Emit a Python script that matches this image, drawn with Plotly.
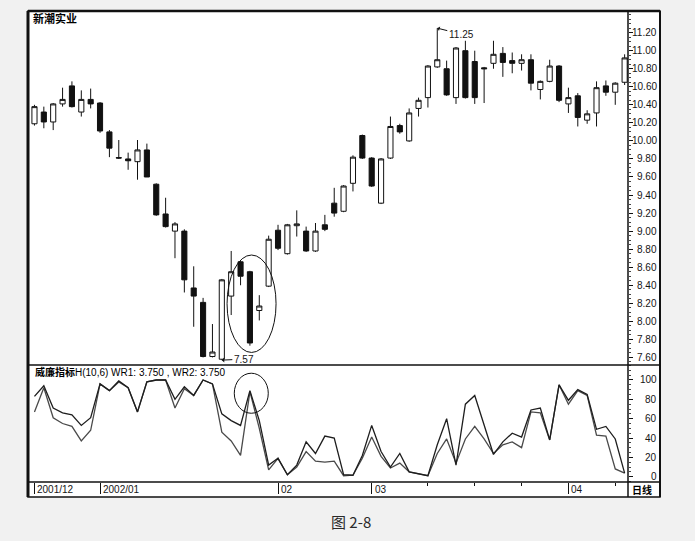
import plotly.graph_objects as go

# ---------------- data ----------------
idx = list(range(64))
opens = [10.19, 10.32, 10.21, 10.41, 10.61, 10.32, 10.46, 10.42, 10.10, 9.815,
         9.80, 9.77, 9.90, 9.52, 9.19, 9.00, 9.00, 8.37, 8.21, 7.61,
         7.58, 8.28, 8.66, 8.55, 8.12, 8.39, 9.01, 8.75, 9.06, 9.00,
         8.78, 9.07, 9.31, 9.22, 9.53, 10.06, 9.81, 9.31, 9.81, 10.17,
         10.00, 10.36, 10.48, 10.82, 10.80, 10.48, 11.00, 10.88, 10.81, 10.86,
         10.97, 10.89, 10.86, 10.90, 10.57, 10.66, 10.83, 10.41, 10.50, 10.23,
         10.31, 10.61, 10.54, 10.65]
highs = [10.40, 10.38, 10.42, 10.59, 10.66, 10.56, 10.58, 10.43, 10.12, 10.01,
         9.87, 10.01, 9.97, 9.53, 9.37, 9.10, 9.02, 8.61, 8.26, 7.97,
         8.47, 8.78, 8.67, 8.56, 8.29, 8.95, 9.07, 9.08, 9.23, 9.05,
         9.09, 9.18, 9.48, 9.51, 9.84, 10.07, 9.82, 9.81, 10.27, 10.19,
         10.36, 10.48, 10.84, 11.25, 10.89, 11.04, 11.11, 11.00, 10.82, 11.11,
         11.04, 10.98, 10.96, 10.96, 10.67, 10.90, 10.84, 10.59, 10.53, 10.34,
         10.66, 10.67, 10.65, 10.96]
lows = [10.17, 10.14, 10.12, 10.38, 10.37, 10.27, 10.36, 10.09, 9.82, 9.80,
        9.68, 9.57, 9.60, 9.17, 9.04, 8.70, 8.32, 7.94, 7.60, 7.60,
        7.57, 8.07, 8.40, 7.73, 8.01, 8.38, 8.79, 8.74, 8.94, 8.77,
        8.77, 9.00, 9.16, 9.21, 9.44, 9.80, 9.49, 9.30, 9.80, 10.08,
        9.99, 10.27, 10.37, 10.81, 10.50, 10.41, 10.47, 10.41, 10.42, 10.80,
        10.71, 10.75, 10.78, 10.56, 10.46, 10.65, 10.43, 10.31, 10.16, 10.19,
        10.16, 10.50, 10.40, 10.62]
closes = [10.38, 10.21, 10.41, 10.46, 10.38, 10.46, 10.41, 10.11, 9.92, 9.81,
          9.78, 9.90, 9.60, 9.18, 9.05, 9.08, 8.46, 8.28, 7.61, 7.66,
          8.46, 8.55, 8.50, 7.76, 8.17, 8.91, 8.81, 9.07, 9.08, 8.78,
          9.00, 9.02, 9.20, 9.50, 9.82, 9.81, 9.50, 9.80, 10.16, 10.10,
          10.31, 10.45, 10.83, 10.90, 10.51, 11.03, 10.48, 10.48, 10.80, 10.96,
          10.87, 10.86, 10.90, 10.64, 10.66, 10.83, 10.45, 10.48, 10.26, 10.30,
          10.59, 10.54, 10.64, 10.92]

wr1 = [83, 94, 71, 66, 64, 53, 61, 96, 89, 99,
       92, 67, 98, 100, 100, 80, 93, 84, 100, 96,
       65, 58, 53, 89, 58, 12, 19, 2, 12, 36,
       24, 42, 40, 2, 1.5, 22, 53, 26, 10, 24,
       5, 3, 1, 33, 60, 12, 75, 84, 53, 23,
       36, 45, 41, 69, 71, 38, 95, 79, 90, 85,
       49, 52, 39, 3.75]
wr2 = [67, 92, 61, 55, 52, 37, 48, 96, 89, 98,
       92, 67, 98, 100, 100, 71, 91, 84, 100, 96,
       46, 37, 22, 88, 50, 7, 19, 2, 10, 26,
       16, 15, 16, 1, 1.5, 19, 41, 21, 9, 14,
       5, 3, 1, 24, 39, 14, 39, 52, 39, 24,
       33, 36, 30, 67, 66, 38, 95, 75, 89, 84,
       43, 42, 8, 3.75]

price_ticks = [7.6, 7.8, 8.0, 8.2, 8.4, 8.6, 8.8, 9.0, 9.2, 9.4, 9.6, 9.8,
               10.0, 10.2, 10.4, 10.6, 10.8, 11.0, 11.2]
price_grid = [7.6, 8.0, 8.4, 8.8, 9.2, 9.6, 10.0, 10.4, 10.8, 11.2]
wr_ticks = [0, 20, 40, 60, 80, 100]
wr_grid = [0, 40, 80, 100]
month_idx = [0, 7, 26, 36, 57]
month_labels = ["2001/12", "2002/01", "02", "03", "04"]
week_idx = [42, 47, 52, 62]

# ---------------- geometry helpers (pixel -> paper) ----------------
W, H = 695, 541
L, R, T, B = 28, 628, 11, 482
def px(x):
    return (x - L) / (R - L)
def py(y):
    return (B - y) / (B - T)

split = py(365)
TXT = "#151515"
FONT = "Liberation Sans, Arial, sans-serif"
CJK = "Noto Sans CJK SC, sans-serif"

fig = go.Figure()
fig.add_trace(go.Candlestick(
    x=idx, open=opens, high=highs, low=lows, close=closes,
    xaxis="x", yaxis="y",
    increasing=dict(fillcolor="#ffffff", line=dict(color="#111111", width=1)),
    decreasing=dict(fillcolor="#111111", line=dict(color="#111111", width=1)),
    whiskerwidth=0, showlegend=False, hoverinfo="skip"))
fig.add_trace(go.Scatter(x=idx, y=wr2, xaxis="x2", yaxis="y2", mode="lines",
                         line=dict(color="#4a4a4a", width=1.3), showlegend=False,
                         hoverinfo="skip"))
fig.add_trace(go.Scatter(x=idx, y=wr1, xaxis="x2", yaxis="y2", mode="lines",
                         line=dict(color="#1e1e1e", width=1.3), showlegend=False,
                         hoverinfo="skip"))

xr = [-0.69, 63.36]
shapes = []
# dotted grid
for v in price_grid:
    shapes.append(dict(type="line", xref="x domain", yref="y", x0=0, x1=1, y0=v, y1=v,
                       line=dict(color="#333333", width=1, dash="1px,2px"), layer="below"))
for v in wr_grid:
    shapes.append(dict(type="line", xref="x2 domain", yref="y2", x0=0, x1=1, y0=v, y1=v,
                       line=dict(color="#333333", width=1, dash="1px,2px"), layer="below"))
# frame
fx1 = px(660)
fy0 = py(497)
shapes += [
    dict(type="rect", xref="paper", yref="paper", x0=0, x1=fx1, y0=fy0, y1=1,
         line=dict(color="#111111", width=1.5), fillcolor="#ffffff", layer="below"),
    dict(type="line", xref="paper", yref="paper", x0=0, x1=0, y0=fy0, y1=1,
         line=dict(color="#111111", width=3)),
    dict(type="line", xref="paper", yref="paper", x0=0, x1=fx1, y0=1, y1=1,
         line=dict(color="#111111", width=2.5)),
    dict(type="line", xref="paper", yref="paper", x0=0, x1=fx1, y0=split, y1=split,
         line=dict(color="#111111", width=1.5)),
    dict(type="line", xref="paper", yref="paper", x0=0, x1=fx1, y0=0, y1=0,
         line=dict(color="#111111", width=1.5)),
    dict(type="line", xref="paper", yref="paper", x0=1, x1=1, y0=fy0, y1=1,
         line=dict(color="#111111", width=1.5)),
    dict(type="line", xref="paper", yref="paper", x0=fx1, x1=fx1, y0=fy0, y1=1,
         line=dict(color="#111111", width=2)),
    # ellipse around the candles
    dict(type="circle", xref="x", yref="y", x0=20.56, x1=25.79, y0=7.655, y1=8.735,
         line=dict(color="#111111", width=1)),
    # circle in WR panel
    dict(type="circle", xref="x2", yref="y2", x0=21.33, x1=24.96, y0=65.6, y1=107,
         line=dict(color="#111111", width=1)),
]

ann = []
ann.append(dict(text="<b>新潮实业</b>", xref="paper", yref="paper", x=px(31), y=py(18),
                xanchor="left", yanchor="middle", showarrow=False,
                font=dict(family=CJK, size=11, color="#000000")))
ann.append(dict(text="<b>威廉指标</b>H(10,6) WR1: 3.750 , WR2: 3.750", xref="paper", yref="paper",
                x=px(33), y=py(372), xanchor="left", yanchor="middle", showarrow=False,
                font=dict(family=FONT + ", " + CJK, size=10, color="#000000")))
for v in price_ticks:
    ann.append(dict(text=f"{v:.2f}", xref="paper", yref="y", x=px(659), y=v,
                    xanchor="right", yanchor="middle", showarrow=False,
                    font=dict(family=FONT, size=10, color=TXT)))
for v in wr_ticks:
    ann.append(dict(text=str(v), xref="paper", yref="y2", x=px(659), y=v,
                    xanchor="right", yanchor="middle", showarrow=False,
                    font=dict(family=FONT, size=10, color=TXT)))
for i, lab in zip(month_idx, month_labels):
    ann.append(dict(text=lab, xref="x2", yref="paper", x=i, y=py(489), xshift=1,
                    xanchor="left", yanchor="middle", showarrow=False,
                    font=dict(family=FONT, size=10, color=TXT)))
ann.append(dict(text="<b>日线</b>", xref="paper", yref="paper", x=px(630), y=py(489.5),
                xanchor="left", yanchor="middle", showarrow=False,
                font=dict(family=CJK, size=10, color="#000000")))
# high / low markers
ann.append(dict(text="11.25", x=43, y=11.25, xref="x", yref="y", ax=24, ay=6,
                showarrow=True, arrowhead=1, arrowsize=0.8, arrowwidth=1, arrowcolor="#111111",
                font=dict(family=FONT, size=10, color=TXT)))
ann.append(dict(text="7.57", x=20, y=7.57, xref="x", yref="y", ax=22, ay=-1,
                showarrow=True, arrowhead=1, arrowsize=0.8, arrowwidth=1, arrowcolor="#111111",
                font=dict(family=FONT, size=10, color=TXT)))
# caption
ann.append(dict(text="图 2-8", xref="paper", yref="paper", x=px(351), y=py(521),
                xanchor="center", yanchor="middle", showarrow=False,
                font=dict(family=CJK, size=15, color="#2a2a2a")))

fig.update_layout(
    width=W, height=H,
    margin=dict(l=L, r=W - R, t=T, b=H - B, pad=0),
    paper_bgcolor="#f1f1f1", plot_bgcolor="rgba(0,0,0,0)",
    showlegend=False,
    boxgap=0.22,
    xaxis=dict(domain=[0, 1], anchor="y", range=xr, showgrid=False, zeroline=False,
               showticklabels=False, ticks="", rangeslider=dict(visible=False), fixedrange=True),
    xaxis2=dict(domain=[0, 1], anchor="y2", range=xr, matches="x", showgrid=False, zeroline=False,
                showticklabels=False, tickmode="array", tickvals=month_idx, ticks="outside",
                ticklen=11, tickwidth=1, tickcolor="#111111",
                minor=dict(tickmode="array", tickvals=week_idx, ticks="outside", ticklen=3,
                           tickcolor="#111111")),
    yaxis=dict(domain=[split, 1], anchor="x", side="right", range=[7.516, 11.44],
               showgrid=False, zeroline=False, showticklabels=False,
               tickmode="array", tickvals=price_ticks, ticks="outside", ticklen=4,
               tickcolor="#111111",
               minor=dict(ticks="outside", ticklen=2, dtick=0.05, tick0=7.6, tickcolor="#444444")),
    yaxis2=dict(domain=[0, split], anchor="x2", side="right", range=[-5.5, 115.5],
                showgrid=False, zeroline=False, showticklabels=False,
                tickmode="array", tickvals=wr_ticks, ticks="outside", ticklen=4,
                tickcolor="#111111",
                minor=dict(ticks="outside", ticklen=2, dtick=5, tick0=0, tickcolor="#444444")),
    shapes=shapes,
    annotations=ann,
)

fig.write_html("out.html", config={"displayModeBar": False},
               post_script="document.body.style.margin='0';document.body.style.background='#f1f1f1';")
